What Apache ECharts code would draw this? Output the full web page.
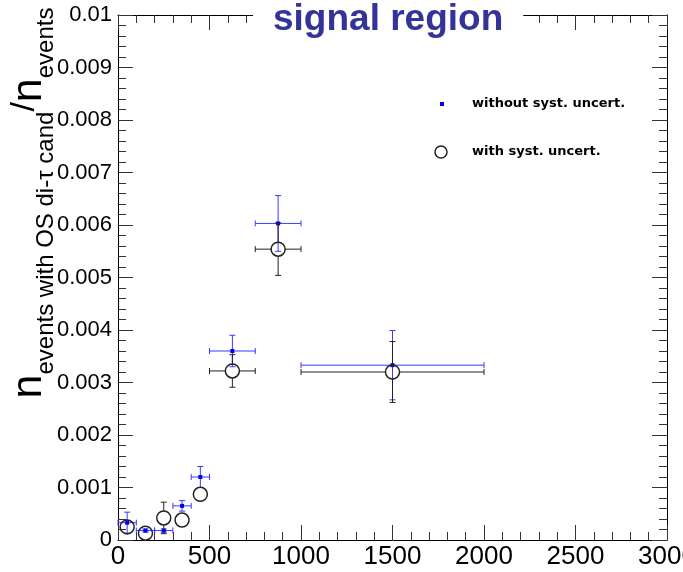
<!DOCTYPE html>
<html>
<head>
<meta charset="utf-8">
<script src="https://cdn.jsdelivr.net/npm/echarts@6/dist/echarts.min.js"></script>
<style>html,body{margin:0;padding:0;background:#fff}#c{width:683px;height:572px}</style>
</head>
<body>
<div id="c"></div>
<script>
// ---- data ----
const xCenters = [50, 150, 250, 350, 450, 625, 875, 1500];
const xHalfWidths = [50, 50, 50, 50, 50, 125, 125, 500];
const noSystValues = [0.00033, 0.00018, 0.00018, 0.00065, 0.0012, 0.0036, 0.00603, 0.00333];
const noSystErrors = [0.0002, 0.00003, 0.00003, 0.0001, 0.0002, 0.0003, 0.00053, 0.00066];
const withSystValues = [0.00025, 0.00013, 0.00042, 0.00038, 0.00087, 0.00322, 0.00554, 0.0032];
const withSystErrors = [0.0001, 0.0001, 0.0003, 0.0001, 0.0001, 0.00031, 0.0005, 0.00058];
const withSystXHalfWidths = [0, 0, 0, 0, 0, 125, 125, 500];
const xTickLabels = ['0', '500', '1000', '1500', '2000', '2500', '3000'];
const yTickLabels = ['0', '0.001', '0.002', '0.003', '0.004', '0.005', '0.006', '0.007', '0.008', '0.009', '0.01'];
const seriesNames = ['without syst. uncert.', 'with syst. uncert.'];
const titleText = 'signal region';

const chart = echarts.init(document.getElementById('c'), null, {renderer: 'canvas'});

const R = 7;
function makeRender(color, isCircle) {
  return function (params, api) {
    const x = api.value(0), y = api.value(1), ex = api.value(2), ey = api.value(3);
    const c = api.coord([x, y]);
    const l = api.coord([x - ex, y]), r = api.coord([x + ex, y]);
    const t = api.coord([x, y + ey]), b = api.coord([x, y - ey]);
    const gap = isCircle ? R : 0;
    const style = {stroke: color, lineWidth: 1, fill: null};
    const ch = [];
    const cap = 3;
    function seg(x1, y1, x2, y2) { ch.push({type: 'line', shape: {x1, y1, x2, y2}, style}); }
    if (c[0] - l[0] > gap + 1) {
      seg(l[0], c[1], c[0] - gap, c[1]); seg(l[0], c[1] - cap, l[0], c[1] + cap);
      seg(c[0] + gap, c[1], r[0], c[1]); seg(r[0], c[1] - cap, r[0], c[1] + cap);
    }
    if (c[1] - t[1] > gap + 1) {
      seg(c[0], t[1], c[0], c[1] - gap); seg(c[0] - cap, t[1], c[0] + cap, t[1]);
      seg(c[0], c[1] + gap, c[0], b[1]); seg(c[0] - cap, b[1], c[0] + cap, b[1]);
    }
    if (isCircle) {
      ch.push({type: 'circle', shape: {cx: c[0], cy: c[1], r: R}, style: {stroke: '#222', lineWidth: 1.5, fill: null}});
    } else {
      ch.push({type: 'rect', shape: {x: c[0] - 2, y: c[1] - 2, width: 4, height: 4}, style: {fill: '#0000ee'}});
    }
    return {type: 'group', children: ch};
  };
}

const noSystData = xCenters.map((x, i) => [x, noSystValues[i], xHalfWidths[i], noSystErrors[i]]);
const withSystData = xCenters.map((x, i) => [x, withSystValues[i], withSystXHalfWidths[i], withSystErrors[i]]);

function axisCommon() {
  return {
    type: 'value',
    axisLine: {show: true, onZero: false, lineStyle: {color: '#000', width: 1}},
    splitLine: {show: false},
    axisTick: {show: true, inside: true, length: 15, lineStyle: {color: '#333'}},
    minorTick: {show: true, splitNumber: 5, length: 8, lineStyle: {color: '#333'}},
    minorSplitLine: {show: false}
  };
}

const option = {
  animation: false,
  backgroundColor: '#fff',
  title: {
    text: titleText,
    left: 253, top: 0,
    padding: [1, 20, 6, 20],
    backgroundColor: '#fff',
    z: 20,
    textStyle: {fontFamily: 'Liberation Sans', fontWeight: 'bold', fontSize: 37, color: '#333399'}
  },
  grid: {left: 118, right: 16, top: 15, bottom: 32, containLabel: false, outerBoundsMode: 'none'},
  xAxis: [
    Object.assign(axisCommon(), {
      min: 0, max: 3000, interval: 500, position: 'bottom',
      axisLabel: {show: true, margin: 4, color: '#000', fontFamily: 'Liberation Sans', fontSize: 26,
        formatter: v => xTickLabels[Math.round(v / 500)]}
    }),
    Object.assign(axisCommon(), {
      min: 0, max: 3000, interval: 500, position: 'top', axisLabel: {show: false}
    })
  ],
  yAxis: [
    Object.assign(axisCommon(), {
      min: 0, max: 0.01, interval: 0.001, position: 'left',
      axisLabel: {show: true, margin: 6, color: '#000', fontFamily: 'Liberation Sans', fontSize: 22,
        formatter: v => yTickLabels[Math.round(v * 1000)]}
    }),
    Object.assign(axisCommon(), {
      min: 0, max: 0.01, interval: 0.001, position: 'right', axisLabel: {show: false}
    })
  ],
  series: [
    {name: seriesNames[0], type: 'custom', renderItem: makeRender('#3a3aff', false), data: noSystData,
      encode: {x: 0, y: 1}, clip: false, z: 2},
    {name: seriesNames[1], type: 'custom', renderItem: makeRender('#222', true), data: withSystData,
      encode: {x: 0, y: 1}, clip: false, z: 3}
  ],
  graphic: [
    {type: 'rect', shape: {x: 440, y: 102, width: 4, height: 4}, style: {fill: '#0000ee'}},
    {type: 'text', x: 472, y: 104, style: {text: seriesNames[0], verticalAlign: 'middle', fontFamily: 'DejaVu Sans', fontWeight: 'bold', fontSize: 13, fill: '#000'}},
    {type: 'circle', shape: {cx: 441, cy: 152, r: 6}, style: {stroke: '#222', lineWidth: 1.5, fill: null}},
    {type: 'text', x: 472, y: 152, style: {text: seriesNames[1], verticalAlign: 'middle', fontFamily: 'DejaVu Sans', fontWeight: 'bold', fontSize: 13, fill: '#000'}},
    {
      type: 'text', x: 33, y: 203, rotation: Math.PI / 2,
      style: {
        text: '{n|n}{s|events with OS di-τ cand}{sl|/}{n|n}{s|events}',
        align: 'center', verticalAlign: 'middle', fill: '#000',
        fontFamily: 'Liberation Sans',
        rich: {
          n: {fontSize: 43, lineHeight: 51, verticalAlign: 'top', fontFamily: 'Liberation Sans', fill: '#000'},
          s: {fontSize: 24, lineHeight: 27, verticalAlign: 'bottom', fontFamily: 'Liberation Sans', fill: '#000'},
          sl: {fontSize: 34, lineHeight: 45, verticalAlign: 'top', fontFamily: 'Liberation Sans', fill: '#000'}
        }
      }
    }
  ]
};
chart.setOption(option);
</script>
</body>
</html>
